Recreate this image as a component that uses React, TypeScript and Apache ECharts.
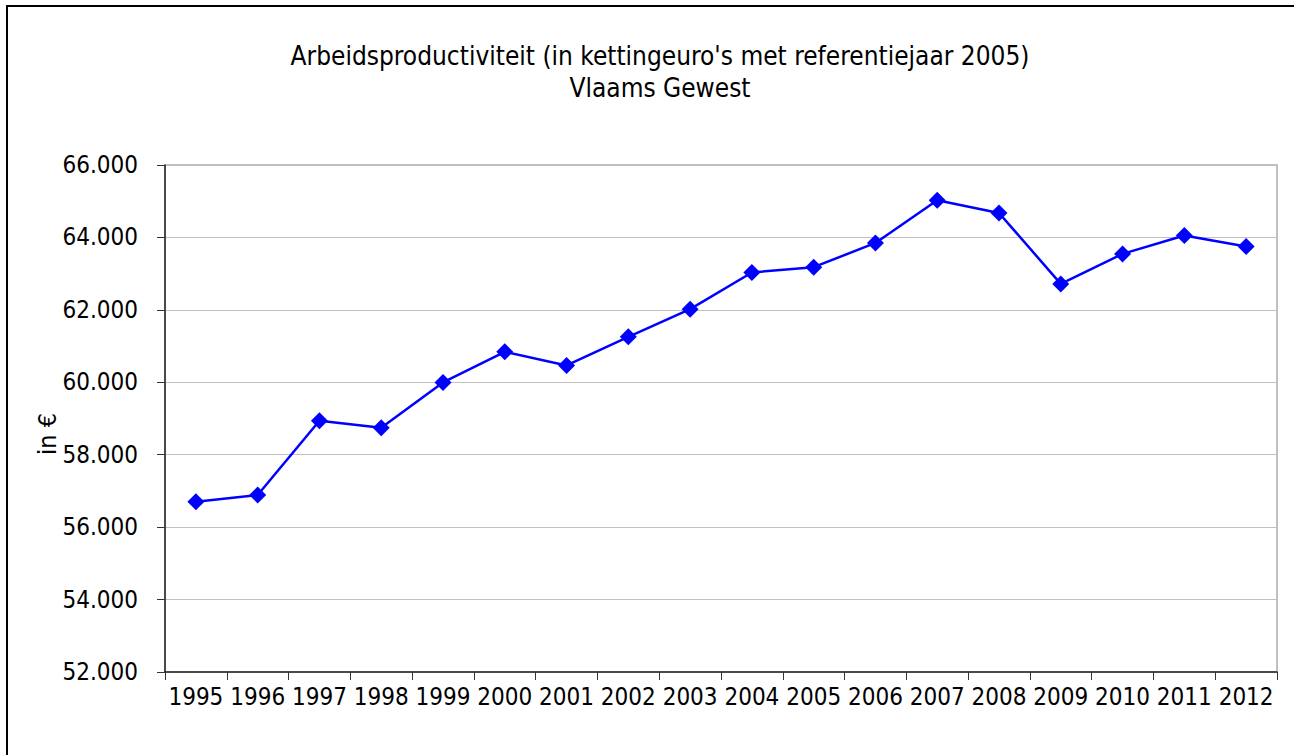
import React, { useEffect, useRef } from "react";
import * as echarts from "echarts";

const years = ["1995","1996","1997","1998","1999","2000","2001","2002","2003","2004","2005","2006","2007","2008","2009","2010","2011","2012"];
const productivity = [56703, 56888, 58938, 58745, 59995, 60841, 60466, 61255, 62019, 63032, 63178, 63848, 65026, 64676, 62717, 63545, 64052, 63749];
const titleLines = ["Arbeidsproductiviteit (in kettingeuro's met referentiejaar 2005)", "Vlaams Gewest"];
const yAxisLabel = "in €";

const FONT = "'DejaVu Sans Condensed', 'DejaVu Sans', sans-serif";

export default function App() {
  const ref = useRef<HTMLDivElement>(null);
  useEffect(() => {
    if (!ref.current) return;
    const chart = echarts.init(ref.current, null, { renderer: "svg" });
    chart.setOption({
      animation: false,
      backgroundColor: "#ffffff",
      title: {
        text: titleLines.join("\n"),
        left: 655,
        top: 35,
        textAlign: "center",
        textStyle: { fontFamily: FONT, fontSize: 26, fontWeight: "normal", color: "#000", lineHeight: 32 },
      },
      graphic: [
        {
          type: "rect",
          shape: { x: 7, y: 6, width: 1400, height: 900 },
          style: { fill: "none", stroke: "#000", lineWidth: 2 },
          silent: true,
        },
        {
          type: "text",
          x: 47,
          y: 434,
          rotation: Math.PI / 2,
          style: { text: yAxisLabel, align: "center", verticalAlign: "middle", font: `25px ${FONT}`, fill: "#000" },
        },
      ],
      grid: { left: 165, top: 165, right: 17, bottom: 83, show: true, borderColor: "#c0c0c0", borderWidth: 2 },
      xAxis: {
        type: "category",
        data: years,
        boundaryGap: true,
        axisLine: { lineStyle: { color: "#222", width: 1.5 } },
        axisTick: { show: true, length: 8, alignWithLabel: false, lineStyle: { color: "#333" } },
        axisLabel: { interval: 0, margin: 13, color: "#000", fontFamily: FONT, fontSize: 24 },
        splitLine: { show: false },
      },
      yAxis: {
        type: "value",
        min: 52000,
        max: 66000,
        interval: 2000,
        axisLine: { show: true, lineStyle: { color: "#222", width: 1.5 } },
        axisTick: { show: true, length: 8, inside: false, lineStyle: { color: "#333" } },
        axisLabel: {
          margin: 27,
          color: "#000",
          fontFamily: FONT,
          fontSize: 24,
          formatter: (v: number) => (v / 1000).toFixed(3),
        },
        splitLine: { show: true, lineStyle: { color: "#c0c0c0", width: 1 } },
      },
      series: [
        {
          type: "line",
          data: productivity,
          symbol: "diamond",
          symbolSize: 17,
          lineStyle: { color: "#0000ff", width: 2.5 },
          itemStyle: { color: "#0000ff" },
        },
      ],
    });
    return () => chart.dispose();
  }, []);
  return <div ref={ref} style={{ position: "fixed", left: 0, top: 0, width: 1294, height: 755 }} />;
}
